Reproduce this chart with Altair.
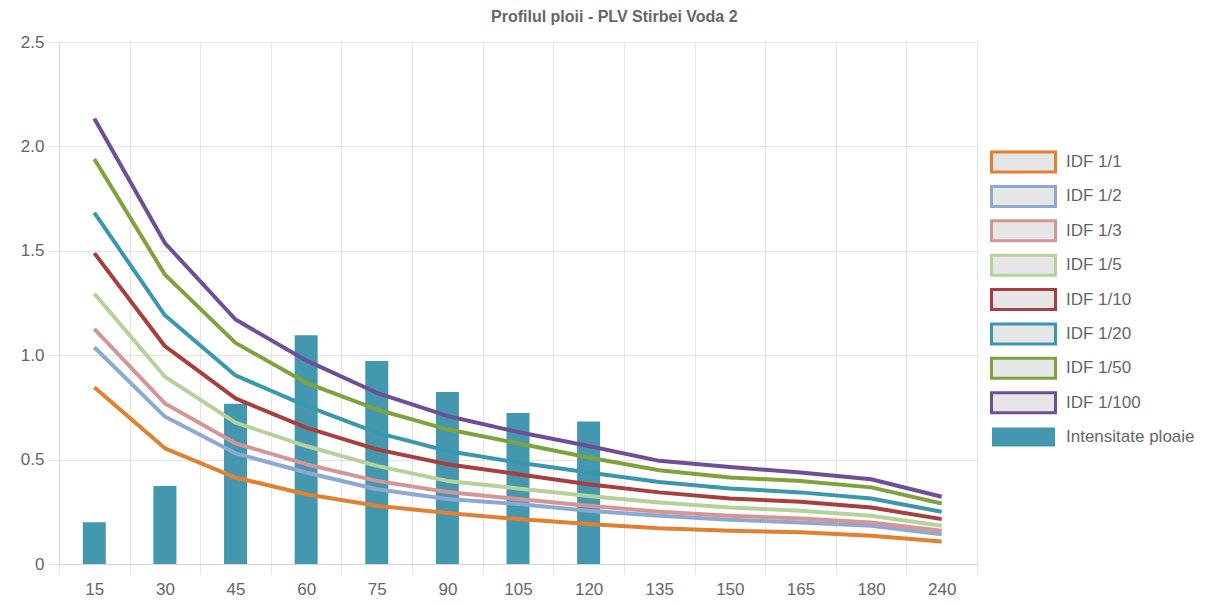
import altair as alt
import pandas as pd

durations = ["15", "30", "45", "60", "75", "90", "105", "120", "135", "150", "165", "180", "240"]

rain_durations = ["15", "30", "45", "60", "75", "90", "105", "120"]
rain = [0.20, 0.373, 0.768, 1.096, 0.972, 0.824, 0.723, 0.682]

idf_1_1 = [0.847, 0.554, 0.414, 0.334, 0.279, 0.244, 0.215, 0.191, 0.171, 0.159, 0.152, 0.135, 0.108]
idf_1_2 = [1.038, 0.706, 0.530, 0.438, 0.358, 0.311, 0.287, 0.255, 0.231, 0.212, 0.199, 0.183, 0.143]
idf_1_3 = [1.126, 0.769, 0.578, 0.478, 0.398, 0.345, 0.311, 0.279, 0.250, 0.231, 0.218, 0.199, 0.159]
idf_1_5 = [1.295, 0.897, 0.677, 0.565, 0.470, 0.398, 0.362, 0.326, 0.295, 0.271, 0.255, 0.231, 0.183]
idf_1_10 = [1.489, 1.043, 0.793, 0.653, 0.549, 0.478, 0.430, 0.382, 0.343, 0.314, 0.298, 0.271, 0.215]
idf_1_20 = [1.683, 1.191, 0.903, 0.757, 0.629, 0.541, 0.486, 0.438, 0.393, 0.362, 0.343, 0.314, 0.250]
idf_1_50 = [1.940, 1.386, 1.059, 0.868, 0.740, 0.645, 0.578, 0.510, 0.449, 0.414, 0.398, 0.367, 0.290]
idf_1_100 = [2.134, 1.537, 1.171, 0.975, 0.820, 0.709, 0.632, 0.565, 0.494, 0.465, 0.438, 0.406, 0.322]

idf_names = ["IDF 1/1", "IDF 1/2", "IDF 1/3", "IDF 1/5", "IDF 1/10", "IDF 1/20", "IDF 1/50", "IDF 1/100"]
idf_series = [idf_1_1, idf_1_2, idf_1_3, idf_1_5, idf_1_10, idf_1_20, idf_1_50, idf_1_100]
idf_colors = ["#E2802F", "#8DA9D3", "#D69595", "#B7D19A", "#A73F3E", "#3B97AE", "#7FA23D", "#6E4E96"]
rain_name = "Intensitate ploaie"
rain_color = "#4398B0"

y_ticks = [0, 0.5, 1.0, 1.5, 2.0, 2.5]

FONT = "Liberation Sans"
GRID = "#e4e4e4"
TEXT = "#666666"

rows = []
for name, vals in zip(idf_names, idf_series):
    for d, v in zip(durations, vals):
        rows.append({"durata": d, "valoare": v, "serie": name})
lines_df = pd.DataFrame(rows)
bars_df = pd.DataFrame({"durata": rain_durations, "valoare": rain})

x_scale = alt.Scale(domain=durations, paddingInner=0, paddingOuter=0)
y_scale = alt.Scale(domain=[0, 2.5], nice=False)

x_axis = alt.Axis(
    title=None, tickBand="extent", grid=True, gridColor=GRID, tickColor=GRID,
    tickSize=10, domainColor="#d6d6d6", labelColor=TEXT, labelFontSize=17,
    labelFont=FONT, labelPadding=7, labelAngle=0,
)
y_axis = alt.Axis(
    title=None, values=y_ticks, grid=True, gridColor=GRID, tickColor=GRID,
    tickSize=12, domainColor="#d6d6d6", labelColor=TEXT, labelFontSize=17,
    labelFont=FONT, labelPadding=3, minExtent=45,
    labelExpr="datum.value == 0 ? '0' : format(datum.value, '.1f')",
)

bars = alt.Chart(bars_df).mark_bar(size=23, color=rain_color).encode(
    x=alt.X("durata:N", scale=x_scale, axis=x_axis, sort=durations),
    y=alt.Y("valoare:Q", scale=y_scale, axis=y_axis),
)

lines = alt.Chart(lines_df).mark_line(strokeWidth=4, interpolate="linear", strokeJoin="round").encode(
    x=alt.X("durata:N", scale=x_scale, sort=durations),
    y=alt.Y("valoare:Q", scale=y_scale),
    color=alt.Color("serie:N", scale=alt.Scale(domain=idf_names, range=idf_colors), legend=None),
    detail="serie:N",
)

main = alt.layer(bars, lines).properties(width=918, height=522)

legend_names = idf_names + [rain_name]
legend_df = pd.DataFrame({"serie": legend_names})
leg_y = alt.Y("serie:N", sort=legend_names, axis=None,
              scale=alt.Scale(type="point", domain=legend_names, range=[120, 395], padding=0))

idf_box = "M-1,-0.3125H1V0.3125H-1Z"
rain_box = "M-1,-0.3016H1V0.3016H-1Z"

leg_idf = alt.Chart(legend_df).transform_filter(
    alt.FieldOneOfPredicate(field="serie", oneOf=idf_names)
).mark_point(shape=idf_box, size=4096, fill="#E6E6E6", fillOpacity=1, strokeWidth=3, opacity=1).encode(
    x=alt.value(33.5),
    y=leg_y,
    stroke=alt.Stroke("serie:N", scale=alt.Scale(domain=idf_names, range=idf_colors), legend=None),
)
leg_rain = alt.Chart(legend_df).transform_filter(
    alt.FieldEqualPredicate(field="serie", equal=rain_name)
).mark_point(shape=rain_box, size=3969, filled=True, color=rain_color, opacity=1).encode(
    x=alt.value(33.5),
    y=leg_y,
)
leg_text = alt.Chart(legend_df).mark_text(
    align="left", baseline="middle", fontSize=17, font=FONT, color=TEXT
).encode(
    x=alt.value(76),
    y=leg_y,
    text="serie:N",
)
legend = alt.layer(leg_idf, leg_rain, leg_text).properties(width=130, height=522)

chart = alt.hconcat(main, legend, spacing=7).resolve_scale(
    color="independent", stroke="independent", y="independent"
).properties(
    title=alt.TitleParams(
        text="Profilul ploii - PLV Stirbei Voda 2", fontSize=16, fontWeight="bold",
        color=TEXT, font=FONT, anchor="middle", offset=8, dx=10,
    ),
    padding={"left": 5, "top": 0, "right": 0, "bottom": 0},
).configure_view(stroke="transparent")

chart.save("out.html", embed_options={"renderer": "svg", "actions": False})
